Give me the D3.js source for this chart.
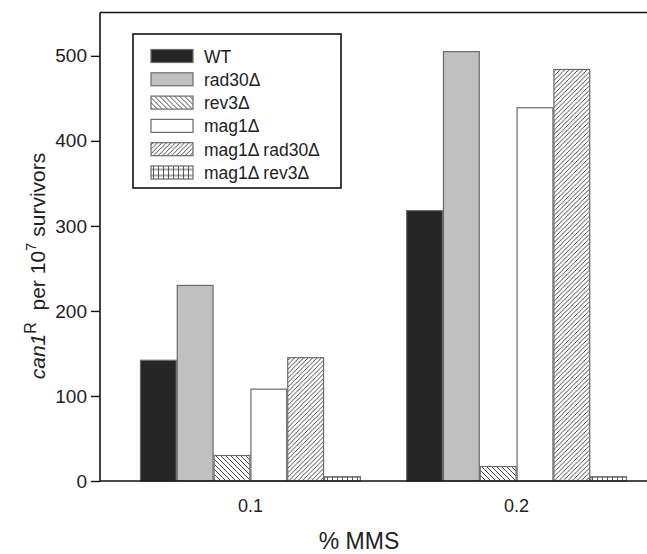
<!DOCTYPE html>
<html>
<head>
<meta charset="utf-8">
<script src="https://cdn.jsdelivr.net/npm/d3@7"></script>
<style>
  body { margin: 0; background: #fff; }
  svg text { font-family: "Liberation Sans", Arial, sans-serif; fill: #222; }
</style>
</head>
<body>
<svg id="chart" width="647" height="554"></svg>
<script>
var doses = ["0.1", "0.2"];
var strains = ["WT", "rad30\u0394", "rev3\u0394", "mag1\u0394", "mag1\u0394 rad30\u0394", "mag1\u0394 rev3\u0394"];
var mutants01 = [142, 230, 30, 108, 145, 5];
var mutants02 = [318, 505, 17, 439, 484, 5];
var yTicks = [0, 100, 200, 300, 400, 500];

(function () {
	var svg = d3.select("#chart");
	var left = 100, right = 647, top = 12.5, bottom = 481;

	var fills = ["#262626", "#c0c0c0", "url(#back)", "#fff", "url(#fwd)", "url(#grid)"];

	// hatch patterns
	var defs = svg.append("defs");
	var back = defs.append("pattern").attr("id", "back").attr("patternUnits", "userSpaceOnUse")
		.attr("width", 5).attr("height", 5);
	back.append("rect").attr("width", 5).attr("height", 5).attr("fill", "#fff");
	back.append("path").attr("d", "M-1,-1L6,6M-1,4L1,6M4,-1L6,1").attr("stroke", "#333").attr("stroke-width", 0.9);

	var fwd = defs.append("pattern").attr("id", "fwd").attr("patternUnits", "userSpaceOnUse")
		.attr("width", 4.5).attr("height", 4.5);
	fwd.append("rect").attr("width", 4.5).attr("height", 4.5).attr("fill", "#fff");
	fwd.append("path").attr("d", "M-1,5.5L5.5,-1M-1,1L1,-1M3.5,5.5L5.5,3.5").attr("stroke", "#333").attr("stroke-width", 0.9);

	var grid = defs.append("pattern").attr("id", "grid").attr("patternUnits", "userSpaceOnUse")
		.attr("width", 5).attr("height", 6);
	grid.append("rect").attr("width", 5).attr("height", 6).attr("fill", "#fff");
	grid.append("path").attr("d", "M2.5,0V6M0,3H5").attr("stroke", "#444").attr("stroke-width", 0.9);

	var x = d3.scaleBand()
		.domain(doses)
		.range([left, 667])
		.paddingInner(0.17)
		.paddingOuter(0.15);

	var xs = d3.scaleBand()
		.domain(strains)
		.range([0, x.bandwidth()]);

	var y = d3.scaleLinear()
		.domain([0, 551])
		.range([bottom, top]);

	var rows = doses.map(function (d, i) {
		var vals = i === 0 ? mutants01 : mutants02;
		return strains.map(function (s, j) {
			return { dose: d, strain: s, value: vals[j], fill: fills[j] };
		});
	});

	var g = svg.selectAll(".grp")
		.data(rows)
		.enter().append("g")
		.attr("class", "grp");

	g.selectAll("rect")
		.data(function (d) { return d; })
		.enter().append("rect")
		.attr("x", function (d) { return x(d.dose) + xs(d.strain) + 0.5; })
		.attr("y", function (d) { return y(d.value); })
		.attr("width", xs.bandwidth() - 1)
		.attr("height", function (d) { return bottom - y(d.value); })
		.attr("fill", function (d) { return d.fill; })
		.attr("stroke", "#6a6a6a")
		.attr("stroke-width", 1.2);

	// frame: top line and bottom line run to the right edge
	svg.append("line").attr("x1", left).attr("x2", right).attr("y1", top).attr("y2", top)
		.attr("stroke", "#111").attr("stroke-width", 1.6);
	svg.append("line").attr("x1", left).attr("x2", right).attr("y1", bottom).attr("y2", bottom)
		.attr("stroke", "#111").attr("stroke-width", 1.6);

	var yAxis = svg.append("g")
		.attr("transform", "translate(" + left + ",0)")
		.call(d3.axisLeft(y).tickValues(yTicks).tickSize(9).tickPadding(4));
	yAxis.select(".domain").attr("d", "M0," + top + "V" + bottom).attr("stroke", "#111").attr("stroke-width", 1.6);
	yAxis.selectAll(".tick line").attr("stroke", "#111").attr("stroke-width", 1.4);
	yAxis.selectAll(".tick text").style("font-size", "19px").attr("fill", "#222");

	var xAxis = svg.append("g")
		.attr("transform", "translate(0," + bottom + ")")
		.call(d3.axisBottom(x).tickSize(0).tickPadding(18));
	xAxis.select(".domain").remove();
	xAxis.selectAll(".tick text").style("font-size", "18px").attr("fill", "#222");

	svg.append("text")
		.attr("x", 359).attr("y", 549)
		.attr("text-anchor", "middle")
		.style("font-size", "23px")
		.text("% MMS");

	var yt = svg.append("text")
		.attr("transform", "translate(45,266) rotate(-90)")
		.attr("text-anchor", "middle")
		.style("font-size", "21px");
	yt.append("tspan").style("font-style", "italic").text("can1");
	yt.append("tspan").attr("dy", -9).style("font-size", "16px").text("R");
	yt.append("tspan").attr("dy", 9).text("\u00a0\u00a0per 10");
	yt.append("tspan").attr("dy", -9).style("font-size", "15px").text("7");
	yt.append("tspan").attr("dy", 9).text(" survivors");

	// legend
	var lg = svg.append("g");
	lg.append("rect").attr("x", 133).attr("y", 34).attr("width", 208).attr("height", 154)
		.attr("fill", "#fff").attr("stroke", "#111").attr("stroke-width", 1.6);
	var item = lg.selectAll(".item")
		.data(strains)
		.enter().append("g")
		.attr("class", "item")
		.attr("transform", function (d, i) { return "translate(151," + (56 + i * 23.3) + ")"; });
	item.append("rect")
		.attr("x", 0).attr("y", -6.5).attr("width", 42).attr("height", 13)
		.attr("fill", function (d, i) { return fills[i]; })
		.attr("stroke", "#6a6a6a").attr("stroke-width", 1.2);
	item.append("text")
		.attr("x", 53).attr("y", 6.5)
		.style("font-size", "17.5px")
		.text(function (d) { return d; });
}) ();
</script>
</body>
</html>
